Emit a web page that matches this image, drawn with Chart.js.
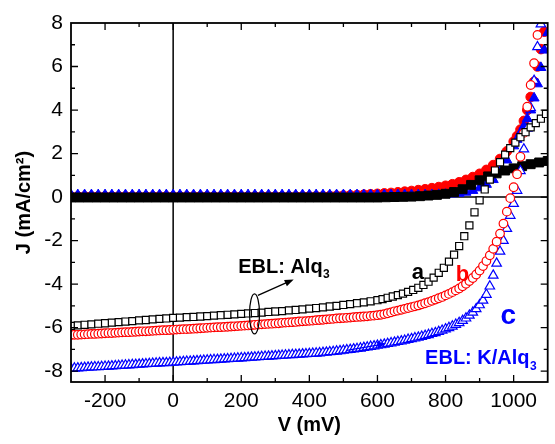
<!DOCTYPE html>
<html lang="en">
<head>
  <meta charset="UTF-8">
  <title>J-V curves</title>
  <script src="https://cdn.jsdelivr.net/npm/chart.js"></script>
  <style>
    html, body { margin: 0; padding: 0; background: #fff; }
    #jv { display: block; }
  </style>
</head>
<body>
  <canvas id="jv" width="555" height="444"></canvas>
  <script>
    // tick labels
    const vTicks = [-200, 0, 200, 400, 600, 800, 1000];
    const jTicks = [-8, -6, -4, -2, 0, 2, 4, 6, 8];

    // a (EBL: Alq3) under light - open squares
    const vA = [-300, -280, -260, -240, -220, -200, -180, -160, -140, -120, -100, -80, -60, -40, -20, 0,
      20, 40, 60, 80, 100, 120, 140, 160, 180, 200, 220, 240, 260, 280, 300, 320, 340, 360, 380, 400,
      420, 440, 460, 480, 500, 520, 540, 560, 580, 600,
      615, 630, 645, 660, 675, 690, 705, 720, 735, 750, 765, 780, 795, 810, 825, 840, 855, 870, 885, 900,
      915, 930, 945, 960, 975, 990, 1005, 1020, 1035, 1050, 1065, 1080, 1095];
    const jA = [-5.92, -5.90, -5.87, -5.85, -5.82, -5.80, -5.77, -5.75, -5.72, -5.70, -5.67, -5.65, -5.62, -5.60, -5.58, -5.55,
      -5.54, -5.52, -5.51, -5.49, -5.47, -5.45, -5.43, -5.41, -5.39, -5.37, -5.35, -5.33, -5.31, -5.28, -5.26, -5.24, -5.21, -5.19, -5.16, -5.13,
      -5.10, -5.07, -5.03, -5.00, -4.96, -4.92, -4.88, -4.84, -4.79, -4.74,
      -4.69, -4.63, -4.57, -4.51, -4.44, -4.36, -4.27, -4.17, -4.04, -3.89, -3.70, -3.48, -3.25, -2.97, -2.65, -2.25, -1.80, -1.30, -0.70, -0.15,
      0.35, 0.80, 1.22, 1.60, 1.95, 2.25, 2.50, 2.75, 2.98, 3.20, 3.40, 3.60, 3.82];

    // b and c under light share a 10 mV grid
    const vFine = [-300, -290, -280, -270, -260, -250, -240, -230, -220, -210, -200, -190, -180, -170, -160, -150,
      -140, -130, -120, -110, -100, -90, -80, -70, -60, -50, -40, -30, -20, -10, 0,
      10, 20, 30, 40, 50, 60, 70, 80, 90, 100, 110, 120, 130, 140, 150, 160, 170, 180, 190, 200,
      210, 220, 230, 240, 250, 260, 270, 280, 290, 300, 310, 320, 330, 340, 350, 360, 370, 380, 390, 400,
      410, 420, 430, 440, 450, 460, 470, 480, 490, 500, 510, 520, 530, 540, 550, 560, 570, 580, 590, 600,
      610, 620, 630, 640, 650, 660, 670, 680, 690, 700, 710, 720, 730, 740, 750, 760, 770, 780, 790, 800,
      810, 820, 830, 840, 850, 860, 870, 880, 890, 900, 910, 920, 930, 940, 950, 960, 970, 980, 990, 1000,
      1010, 1020, 1030, 1040, 1050, 1060, 1070, 1080];
    const jB = [-6.34, -6.33, -6.33, -6.32, -6.31, -6.30, -6.29, -6.29, -6.28, -6.27, -6.26, -6.25, -6.25, -6.24, -6.23, -6.22,
      -6.21, -6.21, -6.20, -6.19, -6.18, -6.17, -6.17, -6.16, -6.15, -6.14, -6.13, -6.12, -6.12, -6.11, -6.10,
      -6.09, -6.08, -6.07, -6.07, -6.06, -6.05, -6.04, -6.03, -6.02, -6.01, -6.00, -5.99, -5.98, -5.98, -5.97, -5.96, -5.95, -5.94, -5.93, -5.92,
      -5.91, -5.90, -5.89, -5.87, -5.86, -5.85, -5.84, -5.83, -5.82, -5.81, -5.80, -5.78, -5.77, -5.76, -5.75, -5.74, -5.72, -5.71, -5.70, -5.69,
      -5.68, -5.66, -5.65, -5.64, -5.62, -5.61, -5.60, -5.58, -5.57, -5.56, -5.55, -5.54, -5.52, -5.51, -5.50, -5.49, -5.48, -5.46, -5.45, -5.43,
      -5.41, -5.38, -5.34, -5.30, -5.25, -5.22, -5.18, -5.14, -5.10, -5.06, -5.02, -4.98, -4.93, -4.88, -4.83, -4.77, -4.71, -4.65, -4.59, -4.52,
      -4.45, -4.37, -4.29, -4.20, -4.10, -3.99, -3.86, -3.72, -3.56, -3.38, -3.17, -2.94, -2.68, -2.38, -2.05, -1.68, -1.22, -0.67, -0.05, 0.45,
      1.05, 1.85, 2.95, 4.15, 5.15, 6.15, 7.45];
    const jC = [-7.88, -7.87, -7.86, -7.85, -7.84, -7.83, -7.82, -7.81, -7.81, -7.80, -7.79, -7.78, -7.77, -7.76, -7.75, -7.74,
      -7.73, -7.72, -7.71, -7.70, -7.69, -7.68, -7.67, -7.66, -7.65, -7.64, -7.63, -7.62, -7.62, -7.61, -7.60,
      -7.59, -7.58, -7.57, -7.56, -7.55, -7.54, -7.53, -7.52, -7.51, -7.50, -7.49, -7.48, -7.47, -7.46, -7.45, -7.44, -7.43, -7.42, -7.41, -7.40,
      -7.39, -7.38, -7.37, -7.36, -7.35, -7.34, -7.33, -7.32, -7.31, -7.30, -7.29, -7.28, -7.27, -7.26, -7.25, -7.24, -7.23, -7.22, -7.21, -7.20,
      -7.19, -7.18, -7.17, -7.15, -7.14, -7.12, -7.11, -7.09, -7.07, -7.05, -7.03, -7.01, -6.99, -6.97, -6.95, -6.92, -6.90, -6.87, -6.85, -6.82,
      -6.80, -6.77, -6.74, -6.71, -6.68, -6.65, -6.62, -6.59, -6.55, -6.52, -6.48, -6.45, -6.41, -6.37, -6.33, -6.28, -6.24, -6.19, -6.13, -6.07,
      -6.01, -5.94, -5.86, -5.78, -5.68, -5.57, -5.44, -5.30, -5.14, -4.96, -4.75, -4.48, -4.10, -3.60, -3.05, -2.50, -2.00, -1.45, -0.85, -0.30,
      0.30, 1.20, 2.20, 3.15, 4.10, 5.35, 6.90, 7.95];

    // dark currents - filled symbols
    const vDarkA = [-300, -275, -250, -225, -200, -175, -150, -125, -100, -75, -50, -25, 0, 25, 50, 75, 100, 125, 150,
      175, 200, 225, 250, 275, 300, 325, 350, 375, 400, 425, 450, 475, 500, 525, 550, 575, 600,
      625, 650, 675, 700, 725, 750, 775, 800, 825, 850, 875, 900, 925, 950, 975, 1000, 1025, 1050, 1075, 1100];
    const jDarkA = [-0.02, -0.02, -0.02, -0.02, -0.02, -0.02, -0.02, -0.02, -0.02, -0.02, -0.02, -0.02, -0.02, -0.02, -0.02, -0.02, -0.02, -0.02, -0.02,
      -0.02, -0.02, -0.02, -0.02, -0.02, -0.02, -0.02, -0.02, -0.02, -0.02, -0.02, -0.02, -0.02, -0.02, -0.02, -0.02, -0.02, -0.02,
      -0.01, 0.00, 0.01, 0.02, 0.04, 0.07, 0.10, 0.15, 0.23, 0.36, 0.56, 0.77, 0.95, 1.09, 1.22, 1.32, 1.42, 1.51, 1.59, 1.66];
    const vDark = [-300, -280, -260, -240, -220, -200, -180, -160, -140, -120, -100, -80, -60, -40, -20, 0,
      20, 40, 60, 80, 100, 120, 140, 160, 180, 200, 220, 240, 260, 280, 300, 320, 340, 360, 380, 400,
      420, 440, 460, 480, 500, 520, 540, 560, 580, 600, 620, 640, 660, 680, 700, 720, 740, 760, 780, 800,
      820, 840, 860, 880, 900, 920, 940, 960, 980, 1000,
      1010, 1020, 1030, 1040, 1050, 1060, 1070, 1080, 1090, 1100];
    const jDarkB = [0.03, 0.03, 0.03, 0.03, 0.03, 0.03, 0.03, 0.03, 0.03, 0.03, 0.03, 0.03, 0.03, 0.03, 0.03, 0.03,
      0.03, 0.03, 0.03, 0.03, 0.03, 0.03, 0.03, 0.03, 0.03, 0.03, 0.03, 0.03, 0.03, 0.03, 0.03, 0.03, 0.03, 0.03, 0.03, 0.03,
      0.04, 0.04, 0.05, 0.06, 0.07, 0.08, 0.09, 0.11, 0.13, 0.15, 0.17, 0.19, 0.22, 0.25, 0.28, 0.32, 0.36, 0.41, 0.46, 0.52,
      0.59, 0.68, 0.79, 0.92, 1.07, 1.25, 1.47, 1.75, 2.10, 2.55,
      2.80, 3.10, 3.50, 4.00, 4.60, 5.30, 6.00, 6.80, 7.60];
    const jDarkC = [0.10, 0.10, 0.10, 0.10, 0.10, 0.10, 0.10, 0.10, 0.10, 0.10, 0.10, 0.10, 0.10, 0.10, 0.10, 0.10,
      0.10, 0.10, 0.10, 0.10, 0.10, 0.10, 0.10, 0.10, 0.10, 0.10, 0.10, 0.10, 0.10, 0.10, 0.10, 0.10, 0.10, 0.10, 0.10, 0.10,
      0.10, 0.10, 0.10, 0.10, 0.10, 0.10, 0.10, 0.10, 0.10, 0.10, 0.10, 0.10, 0.10, 0.10, 0.10, 0.10, 0.10, 0.10, 0.11, 0.12,
      0.14, 0.17, 0.22, 0.30, 0.42, 0.58, 0.80, 1.20, 1.70, 2.35,
      2.65, 2.95, 3.25, 3.60, 4.00, 4.55, 5.20, 5.95, 6.75, 7.55];

    const FONT = '"Liberation Sans", Arial, sans-serif';
    const RED = '#ff0000', BLUE = '#0000ff';

    function series(vs, js, style, order) {
      return Object.assign({
        data: js.map((j, i) => ({ x: vs[i], y: j })),
        showLine: false,
        order: order
      }, style);
    }

    function arrow(ctx, x1, y1, x2, y2, color) {
      const ang = Math.atan2(y2 - y1, x2 - x1);
      ctx.strokeStyle = color;
      ctx.fillStyle = color;
      ctx.lineWidth = 1.3;
      ctx.beginPath();
      ctx.moveTo(x1, y1);
      ctx.lineTo(x2 - 6 * Math.cos(ang), y2 - 6 * Math.sin(ang));
      ctx.stroke();
      ctx.beginPath();
      ctx.moveTo(x2, y2);
      ctx.lineTo(x2 - 9 * Math.cos(ang) + 3.5 * Math.sin(ang), y2 - 9 * Math.sin(ang) - 3.5 * Math.cos(ang));
      ctx.lineTo(x2 - 9 * Math.cos(ang) - 3.5 * Math.sin(ang), y2 - 9 * Math.sin(ang) + 3.5 * Math.cos(ang));
      ctx.closePath();
      ctx.fill();
    }

    // text with a subscript, e.g. Alq3
    function subText(ctx, main, sub, px, py, size, color) {
      ctx.fillStyle = color;
      ctx.textAlign = 'left';
      ctx.textBaseline = 'alphabetic';
      ctx.font = `bold ${size}px ${FONT}`;
      ctx.fillText(main, px, py);
      const w = ctx.measureText(main).width;
      ctx.font = `bold ${Math.round(size * 0.62)}px ${FONT}`;
      ctx.fillText(sub, px + w + 0.5, py + size * 0.28);
    }

    const decorations = {
      id: 'decorations',
      beforeDatasetsDraw(chart) {
        const { ctx, chartArea: a, scales: { x, y } } = chart;
        const x0 = x.getPixelForValue(0), y0 = y.getPixelForValue(0);
        ctx.save();
        ctx.strokeStyle = '#000';
        ctx.lineWidth = 1.5;
        ctx.beginPath();
        ctx.moveTo(x0, a.top); ctx.lineTo(x0, a.bottom);
        ctx.moveTo(a.left, y0); ctx.lineTo(a.right, y0);
        ctx.stroke();
        ctx.restore();
      },
      afterDatasetsDraw(chart) {
        const { ctx, chartArea: a, scales: { x, y } } = chart;
        ctx.save();
        // frame
        ctx.strokeStyle = '#000';
        ctx.lineWidth = 1.8;
        ctx.strokeRect(a.left, a.top, a.right - a.left, a.bottom - a.top);
        // inward ticks on all four sides
        ctx.lineWidth = 1.3;
        ctx.beginPath();
        const xMinor = vTicks.map(v => v - 100).concat([vTicks[vTicks.length - 1] + 100]);
        const yMinor = jTicks.map(v => v + 1);
        const tickX = (v, len) => {
          const px = x.getPixelForValue(v);
          if (px <= a.left + 1 || px >= a.right - 1) return;
          ctx.moveTo(px, a.bottom); ctx.lineTo(px, a.bottom - len);
          ctx.moveTo(px, a.top); ctx.lineTo(px, a.top + len);
        };
        const tickY = (v, len) => {
          const py = y.getPixelForValue(v);
          if (py <= a.top + 1 || py >= a.bottom - 1) return;
          ctx.moveTo(a.left, py); ctx.lineTo(a.left + len, py);
          ctx.moveTo(a.right, py); ctx.lineTo(a.right - len, py);
        };
        vTicks.forEach(v => tickX(v, 7));
        xMinor.forEach(v => tickX(v, 4));
        jTicks.forEach(v => tickY(v, 7));
        yMinor.forEach(v => tickY(v, 4));
        ctx.stroke();

        // EBL: Alq3 with ellipse and arrow
        subText(ctx, 'EBL: Alq', '3', x.getPixelForValue(191), y.getPixelForValue(-3.47), 20, '#000');
        ctx.strokeStyle = '#000';
        ctx.lineWidth = 1.2;
        ctx.beginPath();
        ctx.ellipse(x.getPixelForValue(239), y.getPixelForValue(-5.37), 5, 20, 0, 0, Math.PI * 2);
        ctx.stroke();
        arrow(ctx, x.getPixelForValue(249), y.getPixelForValue(-4.52),
          x.getPixelForValue(354), y.getPixelForValue(-3.79), '#000');

        // curve letters
        ctx.textAlign = 'center';
        ctx.textBaseline = 'middle';
        ctx.font = `bold 22px ${FONT}`;
        ctx.fillStyle = '#000';
        ctx.fillText('a', x.getPixelForValue(719), y.getPixelForValue(-3.47));
        ctx.fillStyle = RED;
        ctx.fillText('b', x.getPixelForValue(850), y.getPixelForValue(-3.56));
        ctx.fillStyle = BLUE;
        ctx.font = `bold 28px ${FONT}`;
        ctx.fillText('c', x.getPixelForValue(984), y.getPixelForValue(-5.49));

        // EBL: K/Alq3 with its small arrow
        subText(ctx, 'EBL: K/Alq', '3', x.getPixelForValue(740), y.getPixelForValue(-7.69), 20, BLUE);
        arrow(ctx, x.getPixelForValue(510), y.getPixelForValue(-7.05),
          x.getPixelForValue(626), y.getPixelForValue(-6.73), BLUE);
        ctx.restore();
      }
    };

    const openStyle = (shape, color, r) => ({
      pointStyle: shape, pointRadius: r, pointBorderColor: color,
      pointBackgroundColor: '#ffffff', pointBorderWidth: 1.2
    });
    const filledStyle = (shape, color, r) => ({
      pointStyle: shape, pointRadius: r, pointBorderColor: color,
      pointBackgroundColor: color, pointBorderWidth: 1
    });

    new Chart(document.getElementById('jv'), {
      type: 'scatter',
      data: {
        datasets: [
          series(vA, jA, openStyle('rect', '#000', 5), 1),
          series(vFine, jB, openStyle('circle', RED, 4.3), 2),
          series(vFine, jC, openStyle('triangle', BLUE, 5.5), 3),
          series(vDarkA, jDarkA, filledStyle('rect', '#000', 6.3), 4),
          series(vDark, jDarkC, filledStyle('triangle', BLUE, 5.8), 5),
          series(vDark, jDarkB, filledStyle('circle', RED, 4.8), 6)
        ]
      },
      options: {
        responsive: false,
        animation: false,
        events: [],
        layout: { padding: { top: 23, right: 2, left: 0, bottom: 0 } },
        plugins: { legend: { display: false }, tooltip: { enabled: false } },
        scales: {
          x: {
            type: 'linear', min: -300, max: 1100,
            afterBuildTicks: s => { s.ticks = vTicks.map(v => ({ value: v })); },
            afterFit: s => { s.height = 62; },
            grid: { display: false, drawTicks: false },
            border: { display: false },
            ticks: { color: '#000', font: { family: FONT, size: 21 }, padding: 7, maxRotation: 0,
              callback: v => String(v) },
            title: { display: true, text: 'V (mV)', color: '#000',
              font: { family: FONT, size: 20, weight: 'bold' }, padding: { top: 0, bottom: 7 } }
          },
          y: {
            type: 'linear', min: -8.5, max: 8,
            afterBuildTicks: s => { s.ticks = jTicks.map(v => ({ value: v })); },
            afterFit: s => { s.width = 71; },
            grid: { display: false, drawTicks: false },
            border: { display: false },
            ticks: { color: '#000', font: { family: FONT, size: 21 }, padding: 8,
              callback: v => String(v) },
            title: { display: true, text: 'J (mA/cm²)', color: '#000',
              font: { family: FONT, size: 20, weight: 'bold' }, padding: { top: 12, bottom: 0 } }
          }
        }
      },
      plugins: [decorations]
    });
  </script>
</body>
</html>
